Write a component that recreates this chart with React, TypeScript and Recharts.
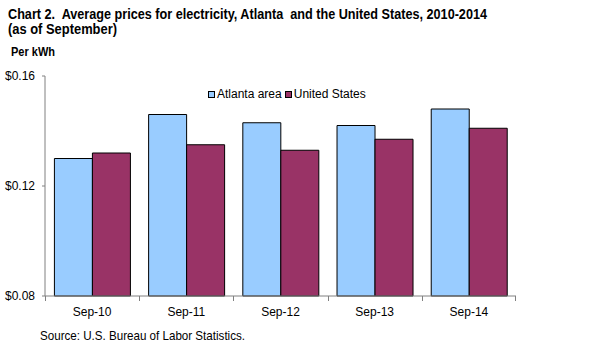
import { BarChart, Bar, XAxis, YAxis, Legend } from 'recharts';

const categories = ['Sep-10', 'Sep-11', 'Sep-12', 'Sep-13', 'Sep-14'];
const atlantaArea = [0.130, 0.146, 0.143, 0.142, 0.148];
const unitedStates = [0.132, 0.135, 0.133, 0.137, 0.141];
const yTicks = [0.08, 0.12, 0.16];

const seriesNames = { atlanta: 'Atlanta area', us: 'United States' };
const colors = { atlanta: '#99CCFF', us: '#993366' };

const FONT = '"Liberation Sans", Arial, sans-serif';
const GRAY = '#808080';

const W = 604;
const H = 356;
const Y_AXIS_W = 45;
const MARGIN = { top: 76, right: 88, left: 0, bottom: 30 };
const PLOT_W = W - Y_AXIS_W - MARGIN.left - MARGIN.right;
const HALF_BAND = PLOT_W / categories.length / 2;

const data = categories.map((cat, i) => ({
  cat,
  atlanta: atlantaArea[i],
  us: unitedStates[i],
}));

// category label plus tick marks at the band edges
function EdgeTick(props: any) {
  const { x, y, payload, index } = props;
  const axisY = y - 11;
  const left = Math.round(x - HALF_BAND) + 0.5;
  const right = Math.round(x + HALF_BAND) - 0.5;
  return (
    <g>
      <line x1={left} x2={left} y1={axisY} y2={axisY + 5} stroke={GRAY} />
      {index === categories.length - 1 && (
        <line x1={right} x2={right} y1={axisY} y2={axisY + 5} stroke={GRAY} />
      )}
      <text x={x} y={y} dy="0.71em" textAnchor="middle" fontSize={12} fill="#000" fontFamily={FONT}>
        {payload.value}
      </text>
    </g>
  );
}

function LegendBox() {
  const item = (key: 'atlanta' | 'us') => (
    <span style={{ display: 'inline-flex', alignItems: 'center', marginRight: 3 }}>
      <span
        style={{
          width: 5,
          height: 5,
          background: colors[key],
          border: '1px solid #000',
          marginRight: 2,
          display: 'inline-block',
        }}
      />
      <span>{seriesNames[key]}</span>
    </span>
  );
  return (
    <div style={{ fontFamily: FONT, fontSize: 12, color: '#000', display: 'flex', whiteSpace: 'nowrap' }}>
      {item('atlanta')}
      {item('us')}
    </div>
  );
}

export default function App() {
  return (
    <div style={{ position: 'absolute', left: 0, top: 0, width: W, height: H, background: '#fff' }}>
      <BarChart
        width={W}
        height={H}
        data={data}
        margin={MARGIN}
        barCategoryGap="10%"
        barGap={0}
      >
        <XAxis
          dataKey="cat"
          axisLine={{ stroke: GRAY }}
          tickLine={false}
          tickSize={0}
          tickMargin={11}
          height={30}
          interval={0}
          tick={<EdgeTick />}
        />
        <XAxis xAxisId="top" dataKey="cat" orientation="top" height={0} tick={false} tickLine={false} axisLine={{ stroke: GRAY }} />
        <YAxis
          domain={[0.08, 0.16]}
          ticks={yTicks}
          width={Y_AXIS_W}
          axisLine={{ stroke: GRAY }}
          tickLine={{ stroke: GRAY }}
          tickSize={3}
          tickMargin={7}
          tick={{ fontSize: 12, fill: '#000', fontFamily: FONT }}
          tickFormatter={(v: number) => `$${v.toFixed(2)}`}
        />
        <YAxis yAxisId="right" orientation="right" domain={[0.08, 0.16]} width={0} tick={false} tickLine={false} axisLine={{ stroke: GRAY }} />
        <Legend
          layout="horizontal"
          verticalAlign="middle"
          align="center"
          content={<LegendBox />}
          wrapperStyle={{ top: 87, left: 208, width: 'auto' }}
        />
        <Bar dataKey="atlanta" name={seriesNames.atlanta} fill={colors.atlanta} stroke="#000" strokeWidth={1} isAnimationActive={false} />
        <Bar dataKey="us" name={seriesNames.us} fill={colors.us} stroke="#000" strokeWidth={1} isAnimationActive={false} />
      </BarChart>
      <svg width={W} height={H} style={{ position: 'absolute', left: 0, top: 0, pointerEvents: 'none' }}>
        <g fontFamily={FONT} fill="#000">
          <text x={8} y={19} fontSize={15} fontWeight="bold" textLength={479} lengthAdjust="spacingAndGlyphs" xmlSpace="preserve">
            {'Chart 2.  Average prices for electricity, Atlanta  and the United States, 2010-2014'}
          </text>
          <text x={8} y={34} fontSize={15} fontWeight="bold" textLength={109} lengthAdjust="spacingAndGlyphs">
            {'(as of September)'}
          </text>
          <text x={11} y={56} fontSize={13} fontWeight="bold" textLength={44} lengthAdjust="spacingAndGlyphs">
            {'Per kWh'}
          </text>
          <text x={40} y={340} fontSize={13} textLength={205} lengthAdjust="spacingAndGlyphs">
            {'Source: U.S. Bureau of Labor Statistics.'}
          </text>
        </g>
      </svg>
    </div>
  );
}
